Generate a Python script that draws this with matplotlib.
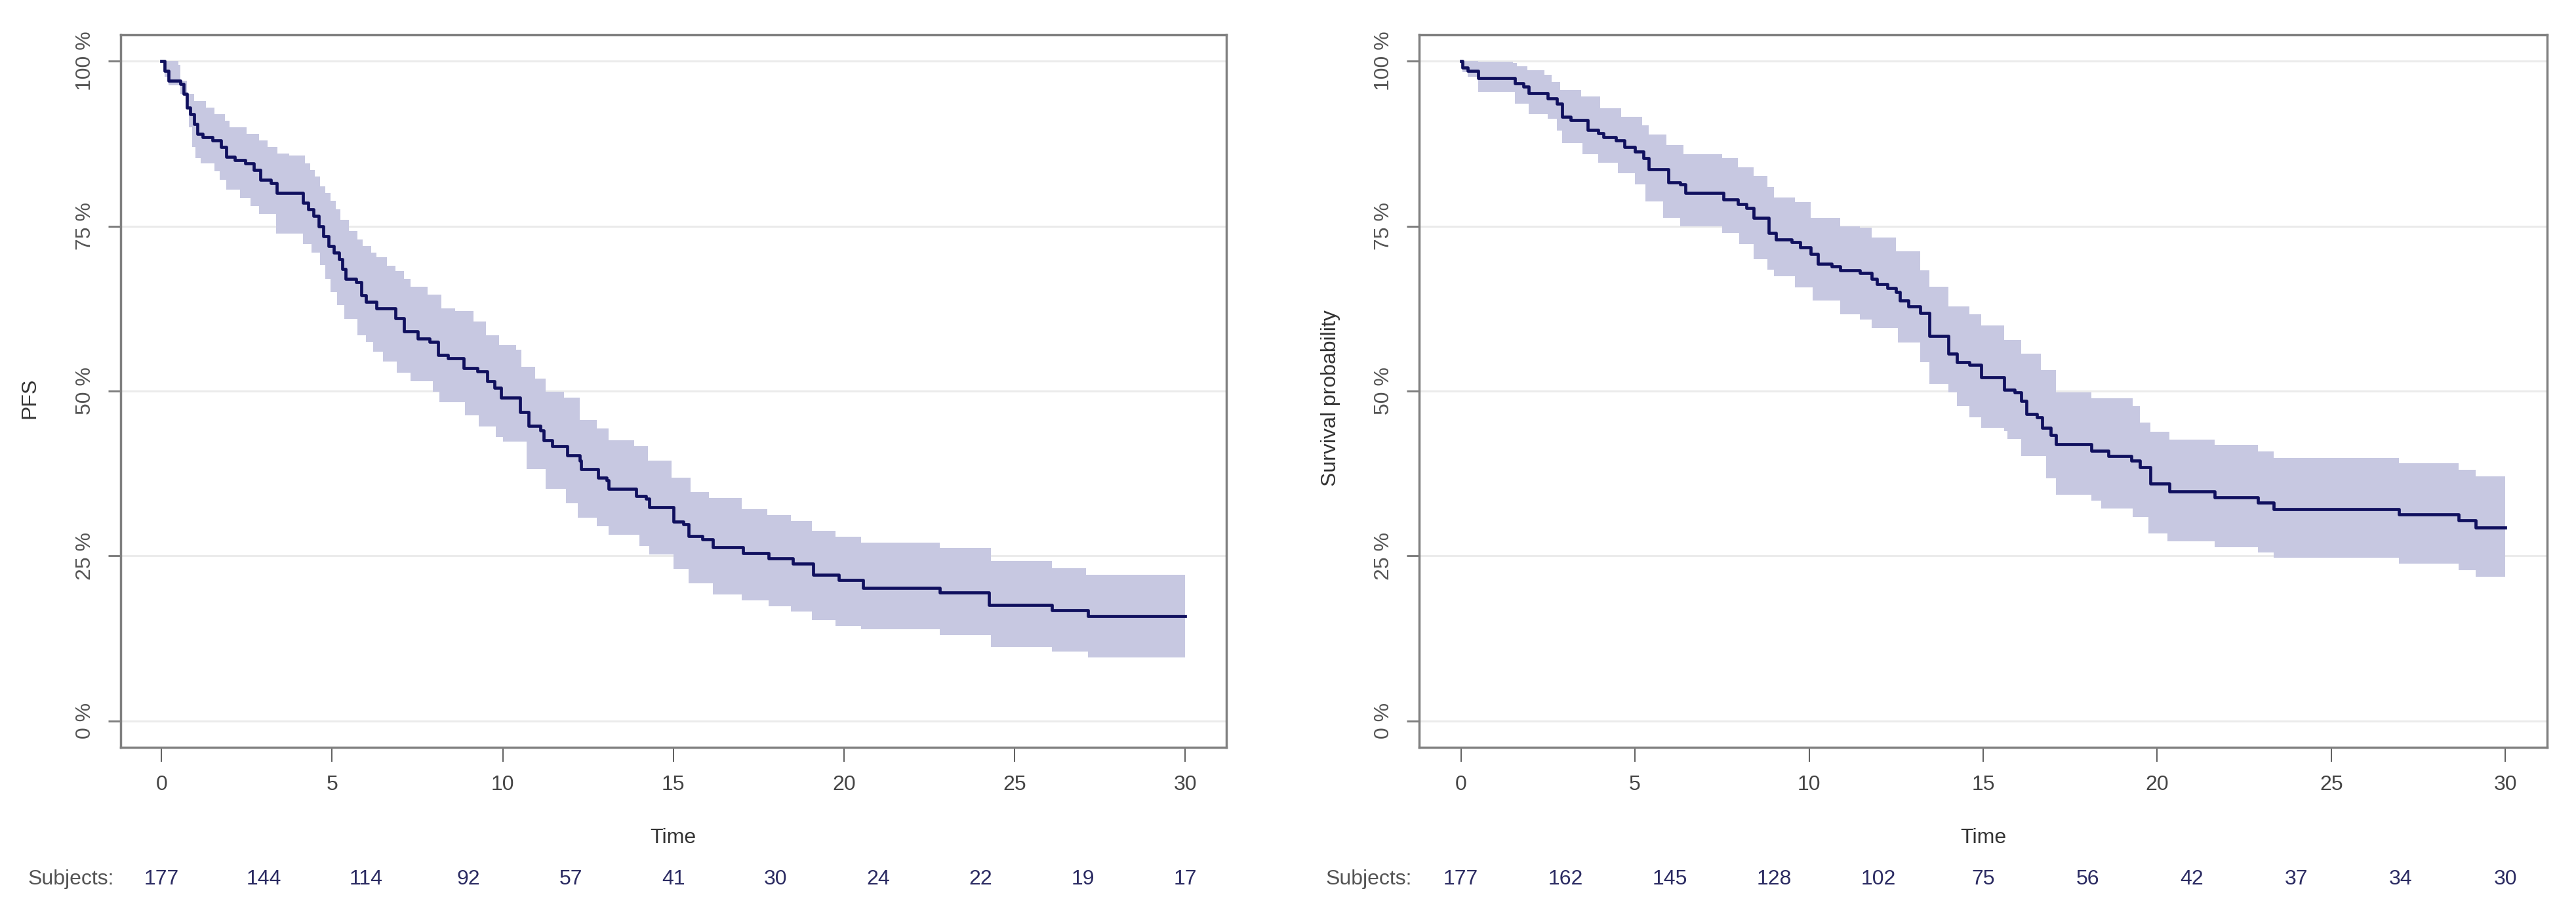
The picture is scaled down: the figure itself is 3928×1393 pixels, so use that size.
import numpy as np
import matplotlib
matplotlib.use("Agg")
import matplotlib.pyplot as plt
from matplotlib import transforms

plt.rcParams['font.family'] = ['Liberation Sans', 'DejaVu Sans']

# ---- left panel: PFS ----
pfs_time = [0, 0.1, 0.2, 0.55, 0.65, 0.75, 0.85, 0.95, 1.05, 1.2, 1.5, 1.75, 1.9, 2.15, 2.45,
            2.7, 2.9, 3.2, 3.38, 4.15, 4.3, 4.45, 4.6, 4.75, 4.9, 5.05, 5.2, 5.3, 5.4, 5.7,
            5.85, 6.0, 6.3, 6.85, 7.1, 7.5, 7.85, 8.1, 8.4, 8.85, 9.25, 9.55, 9.75, 9.95,
            10.5, 10.75, 11.1, 11.2, 11.45, 11.9, 12.25, 12.3, 12.8, 13.05, 13.1, 13.9, 14.2,
            14.3, 15.0, 15.3, 15.45, 15.85, 16.15, 17.05, 17.8, 18.5, 19.1, 19.85, 20.55,
            22.8, 24.25, 26.1, 27.15]
pfs_surv = [100, 98.5, 97, 96.5, 95, 93, 92, 90.5, 89, 88.5, 88, 87, 85.5, 85, 84.5,
            83.5, 82, 81.5, 80, 78.5, 77.5, 76.5, 75, 73.5, 72, 71, 70, 68.5, 67, 66.5,
            64.5, 63.5, 62.5, 61, 59, 58, 57.5, 55.5, 55, 53.5, 53, 51.5, 50.5, 49,
            46.8, 44.7, 44, 42.5, 41.6, 40.3, 39.5, 38.2, 36.9, 36.5, 35.2, 34.1, 33.7,
            32.4, 30.2, 29.8, 28.0, 27.5, 26.3, 25.4, 24.6, 23.8, 22.2, 21.4, 20.2,
            19.5, 17.6, 16.8, 15.9]

pfs_up_time = [0, 0.5, 0.55, 0.75, 0.95, 1.3, 1.55, 1.85, 2.0, 2.5, 2.85, 3.1, 3.4, 3.75,
               4.2, 4.35, 4.5, 4.65, 4.8, 4.95, 5.1, 5.25, 5.5, 5.75, 5.9, 6.15, 6.3, 6.6,
               6.85, 7.1, 7.3, 7.8, 8.2, 8.6, 9.15, 9.5, 9.9, 10.4, 10.55, 10.95, 11.25,
               11.8, 12.25, 12.75, 13.1, 13.85, 14.25, 14.95, 15.5, 16.05, 17.0, 17.75,
               18.45, 19.05, 19.75, 20.5, 22.8, 24.3, 26.1, 27.1]
pfs_up = [100, 99.4, 97, 95, 94, 93, 92, 91, 90, 89, 88, 87, 86, 85.7,
          84.5, 83.5, 82.5, 81, 80, 78.8, 77.5, 76, 74.3, 73, 72, 71, 70.3, 69,
          68.2, 67, 65.8, 64.6, 62.5, 62.1, 60.5, 58.5, 57, 56.3, 53.7, 51.9, 49.9,
          49.0, 45.6, 44.3, 42.5, 41.6, 39.5, 36.9, 34.7, 33.8, 32.1, 31.2,
          30.3, 28.8, 27.9, 27.0, 26.2, 24.2, 23.2, 22.2]

pfs_lo_time = [0, 0.1, 0.2, 0.55, 0.7, 0.8, 0.9, 1.0, 1.15, 1.55, 1.7, 1.9, 2.3, 2.6, 2.85,
               3.35, 4.15, 4.4, 4.65, 4.8, 4.95, 5.15, 5.35, 5.75, 6.0, 6.2, 6.5, 6.9, 7.3,
               7.95, 8.15, 8.9, 9.3, 9.8, 10.0, 10.7, 11.25, 11.85, 12.2, 12.75, 13.1, 14.0,
               14.3, 15.0, 15.45, 16.15, 17.0, 17.8, 18.45, 19.05, 19.75, 20.5, 22.8, 24.3,
               26.1, 27.15]
pfs_lo = [100, 97.6, 96.3, 95, 93.9, 90, 87, 85.3, 84.5, 83.3, 82, 80.5, 79.2, 78, 76.8,
          73.9, 72.3, 71, 69.1, 67, 65, 63, 60.9, 58.5, 57.5, 56, 54.5, 52.8, 51.5,
          49.9, 48.3, 46.3, 44.6, 43.0, 42.3, 38.2, 35.2, 33.0, 30.8, 29.5, 28.2, 26.5,
          25.2, 23.1, 20.9, 19.2, 18.3, 17.4, 16.6, 15.3, 14.4, 13.9, 13.0, 11.2,
          10.5, 9.6]

# ---- right panel: overall survival ----
os_time = [0, 0.05, 0.2, 0.5, 1.55, 1.8, 1.95, 2.5, 2.75, 2.9, 3.15, 3.65, 3.95, 4.1, 4.45,
           4.7, 5.0, 5.25, 5.4, 5.95, 6.3, 6.45, 7.55, 7.95, 8.2, 8.4, 8.85, 9.05, 9.5,
           9.75, 10.05, 10.25, 10.65, 10.9, 11.45, 11.8, 11.95, 12.25, 12.5, 12.6, 12.85,
           13.2, 13.45, 14.0, 14.25, 14.6, 14.95, 15.6, 15.9, 16.1, 16.25, 16.55, 16.7,
           16.95, 17.1, 18.1, 18.6, 19.25, 19.5, 19.8, 20.35, 21.65, 22.9, 23.35, 26.95,
           28.65, 29.15]
os_surv = [100, 99, 98.5, 97.4, 96.6, 96.1, 95.1, 94.3, 93.6, 91.6, 91.1, 89.6, 89.1, 88.5, 88.0,
           87.0, 86.3, 85.3, 83.6, 81.6, 81.3, 80.0, 79.0, 78.3, 77.7, 76.3, 74.0, 73.0, 72.6,
           71.8, 70.8, 69.3, 68.9, 68.3, 67.9, 67.0, 66.2, 65.6, 65.0, 63.7, 62.8,
           61.8, 58.4, 55.7, 54.4, 54.0, 52.1, 50.2, 49.8, 48.5, 46.5, 46.0, 44.4,
           43.3, 41.9, 41.0, 40.2, 39.5, 38.5, 36.0, 34.8, 33.9, 33.1, 32.1, 31.3,
           30.4, 29.3]

os_up_time = [0, 0.5, 1.5, 1.6, 1.9, 2.4, 2.6, 2.85, 3.45, 4.0, 4.6, 5.2, 5.4, 5.9, 6.4, 7.5,
              7.95, 8.4, 8.8, 9.0, 9.6, 10.05, 10.9, 11.45, 11.8, 12.5, 13.2, 13.45, 14.0,
              14.6, 14.95, 15.6, 16.1, 16.65, 17.1, 18.1, 19.3, 19.5, 19.8, 20.35, 21.65,
              22.9, 23.35, 26.95, 28.65, 29.15]
os_up = [100, 99.9, 99.7, 99.2, 98.6, 97.9, 96.8, 95.6, 94.6, 92.9, 91.6, 90.3, 88.9, 87.3, 85.9, 85.3,
         83.9, 82.6, 80.9, 79.3, 78.6, 76.3, 75.0, 74.8, 73.3, 71.2, 68.3, 65.8, 62.8,
         61.6, 59.9, 57.8, 55.7, 53.2, 49.8, 48.9, 47.7, 45.2, 43.8, 42.6, 41.8,
         40.9, 39.9, 39.1, 38.1, 37.1]

os_lo_time = [0, 0.05, 0.2, 0.5, 1.55, 1.95, 2.5, 2.75, 2.9, 3.5, 3.95, 4.5, 5.0, 5.3, 5.8,
              6.3, 7.5, 8.0, 8.4, 8.8, 9.0, 9.6, 10.1, 10.9, 11.45, 11.8, 12.55, 13.2, 13.45,
              14.0, 14.25, 14.6, 14.95, 15.6, 15.7, 16.1, 16.8, 17.1, 18.1, 18.4, 19.3,
              19.75, 20.3, 21.65, 22.9, 23.35, 26.95, 28.65, 29.15]
os_lo = [100, 98.3, 97.6, 95.3, 93.6, 92.0, 91.3, 89.5, 87.6, 85.9, 84.6, 83.0, 81.3, 78.7, 76.3,
         75.0, 74.0, 72.3, 70.0, 68.4, 67.4, 65.7, 63.7, 61.6, 60.8, 59.5, 57.4, 54.4, 51.1,
         49.8, 47.7, 46.0, 44.4, 43.9, 42.7, 40.2, 36.8, 34.3, 33.4, 32.2, 30.9,
         28.4, 27.2, 26.3, 25.5, 24.7, 23.8, 22.9, 21.9]

risk_times = [0, 3, 6, 9, 12, 15, 18, 21, 24, 27, 30]
pfs_risk = [177, 144, 114, 92, 57, 41, 30, 24, 22, 19, 17]
os_risk = [177, 162, 145, 128, 102, 75, 56, 42, 37, 34, 30]

t_end = 30
line_col = '#10105e'
band_col = '#c7c8e1'


def step_at(tt, t, v):
    idx = np.searchsorted(np.asarray(t), tt, side='right') - 1
    return np.asarray(v)[idx]


def km_panel(ax, t, s, up_t, up, lo_t, lo, risk, ylabel, ylab_x):
    grid = np.unique(np.concatenate([t, up_t, lo_t, [t_end]]))
    ax.fill_between(grid, step_at(grid, lo_t, lo), step_at(grid, up_t, up),
                    step='post', color=band_col, lw=0, zorder=1)
    ax.step(np.append(t, t_end), np.append(s, s[-1]), where='post',
            color=line_col, lw=3.4, zorder=3)

    ax.set_xlim(-1.2, 31.2)
    ax.set_ylim(-4, 104)
    ax.set_xticks([0, 5, 10, 15, 20, 25, 30])
    ax.set_yticks([0, 25, 50, 75, 100])
    ax.set_yticklabels(['0 %', '25 %', '50 %', '75 %', '100 %'])
    ax.yaxis.grid(True, color='#ebebeb', lw=2.2)
    ax.set_axisbelow(True)
    for sp in ax.spines.values():
        sp.set_color('#808080')
        sp.set_linewidth(2.5)
    ax.tick_params(axis='x', direction='out', length=16, width=1.1, color='#333333',
                   labelsize=23, labelcolor='#444444', pad=14)
    ax.tick_params(axis='y', direction='out', length=14, width=2.2, color='#808080',
                   labelsize=23, labelcolor='#555555', pad=14, labelrotation=90)
    for lab in ax.get_yticklabels():
        lab.set_va('center')

    ax.set_xlabel('Time', fontsize=23, color='#333333', va='center')
    ax.xaxis.set_label_coords(0.5, -0.127)
    ax.set_ylabel(ylabel, fontsize=23, color='#333333', va='center')
    ax.yaxis.set_label_coords(ylab_x, 0.49)

    trans = transforms.blended_transform_factory(ax.transData, ax.transAxes)
    ax.text(-1.4, -0.185, 'Subjects:', transform=trans, ha='right', va='center',
            fontsize=23, color='#555555', clip_on=False)
    for rt, n in zip(risk_times, risk):
        ax.text(rt, -0.185, str(n), transform=trans, ha='center', va='center',
                fontsize=23, color='#2b2b62', clip_on=False)


fig = plt.figure(figsize=(39.28, 13.93), dpi=100)
ax1 = fig.add_axes([0.0468, 0.1823, 0.4292, 0.7797])
ax2 = fig.add_axes([0.5509, 0.1823, 0.4379, 0.7797])

km_panel(ax1, pfs_time, pfs_surv, pfs_up_time, pfs_up, pfs_lo_time, pfs_lo,
         pfs_risk, 'PFS', -0.082)
km_panel(ax2, os_time, os_surv, os_up_time, os_up, os_lo_time, os_lo,
         os_risk, 'Survival probability', -0.0785)

fig.savefig('out.png', dpi=100, facecolor='white')
